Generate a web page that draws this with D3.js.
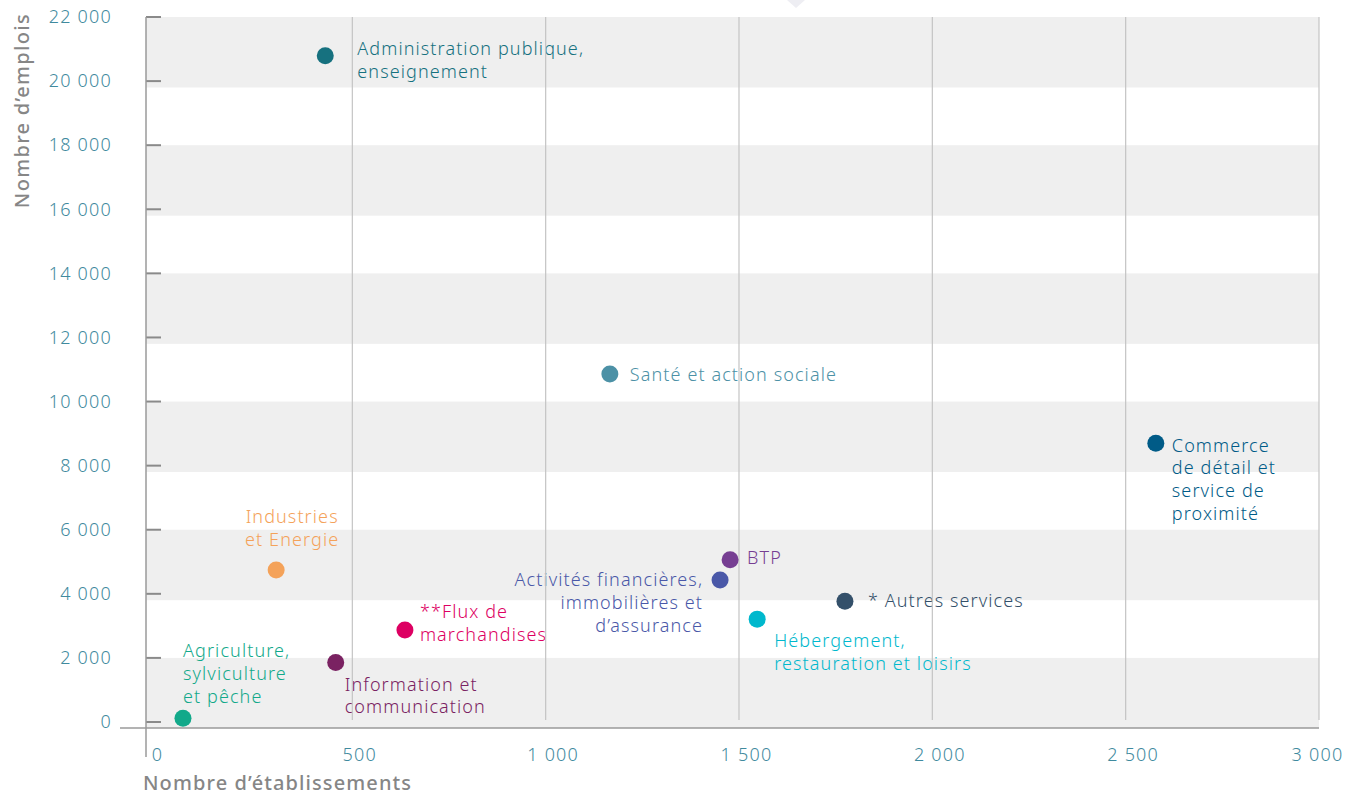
<!DOCTYPE html>
<html>
<head>
<meta charset="utf-8">
<script src="https://cdn.jsdelivr.net/npm/d3@7"></script>
<style>
  body { margin: 0; background: #fff; }
  svg text { font-family: "Noto Sans", "Open Sans", sans-serif; }
</style>
</head>
<body>
<svg id="chart" width="1346" height="795"></svg>
<script>
'use strict';

// sectors: nombre d'établissements (x) / nombre d'emplois (y)
var sectors = ['Administration publique', 'Santé', 'Commerce', 'Industries', 'BTP',
    'Activités financières', 'Autres services', 'Hébergement', 'Flux', 'Information', 'Agriculture'];
var etablissements = [430, 1166, 2578, 303, 1477, 1451, 1774, 1547, 636, 457, 62];
var emplois = [20790, 10860, 8700, 4740, 5060, 4430, 3770, 3210, 2870, 1860, 120];
var labels = [
    ['Administration publique,', 'enseignement'],
    ['Santé et action sociale'],
    ['Commerce', 'de détail et', 'service de', 'proximité'],
    ['Industries', 'et Energie'],
    ['BTP'],
    ['Activités financières,', 'immobilières et', 'd\u2019assurance'],
    ['* Autres services'],
    ['Hébergement,', 'restauration et loisirs'],
    ['**Flux de', 'marchandises'],
    ['Information et', 'communication'],
    ['Agriculture,', 'sylviculture', 'et pêche']
];
var colors = ['#16717f', '#4c91a6', '#005b87', '#f4a259', '#763e92', '#4a58a8',
    '#34506a', '#00b8cd', '#dd0062', '#7a2262', '#12a98a'];

var xTicks = [0, 500, 1000, 1500, 2000, 2500, 3000];
var yTicks = [0, 2000, 4000, 6000, 8000, 10000, 12000, 14000, 16000, 18000, 20000, 22000];
var bandStarts = [22000, 18000, 14000, 10000, 6000, 2000];

// where each label sits relative to its dot
var labelPlace = [
    {dx: 32, dy: -7, anchor: 'start'},
    {dx: 20, dy: 1, anchor: 'start'},
    {dx: 16, dy: 2, anchor: 'start'},
    {dx: 16, dy: -53, anchor: 'middle'},
    {dx: 17, dy: -2, anchor: 'start'},
    {dx: -17, dy: 0, anchor: 'end'},
    {dx: 23, dy: 0, anchor: 'start'},
    {dx: 17, dy: 22, anchor: 'start'},
    {dx: 15, dy: -18, anchor: 'start'},
    {dx: 9, dy: 22, anchor: 'start'},
    {dx: 0, dy: -67, anchor: 'start'}
];

var svg = d3.select('#chart'),
    x = d3.scaleLinear().domain([0, 3000]).range([159, 1319]),
    y = d3.scaleLinear().domain([0, 22000]).range([722, 17]),
    plotBottom = 728,
    fmt = function(v) { return d3.format(',')(v).replace(/,/g, ' '); };

// little tooltip pointer left at the top
svg.append('path')
    .attr('d', 'M787,0 L805,0 L796,8 Z')
    .attr('fill', '#eeeef3');

// grey bands
svg.append('g').selectAll('rect')
    .data(bandStarts)
    .join('rect')
    .attr('x', 146)
    .attr('width', 1319 - 146)
    .attr('y', function(d) { return y(d); })
    .attr('height', function(d) { return Math.min(y(d - 2200), plotBottom) - y(d); })
    .attr('fill', '#efefef');

// labels
var lab = svg.append('g');
sectors.forEach(function(s, i) {
    var p = labelPlace[i];
    var t = lab.append('text')
        .attr('x', x(etablissements[i]) + p.dx)
        .attr('y', y(emplois[i]) + p.dy)
        .attr('text-anchor', p.anchor)
        .attr('fill', colors[i])
        .style('font-size', '18px')
        .style('letter-spacing', '1.1px')
        .style('font-weight', 300);
    labels[i].forEach(function(line, k) {
        t.append('tspan')
            .attr('x', x(etablissements[i]) + p.dx)
            .attr('dy', k === 0 ? '0.35em' : 22.7)
            .text(line);
    });
});

// vertical gridlines (over the text, like the original)
svg.append('g').selectAll('line')
    .data(xTicks.slice(1))
    .join('line')
    .attr('x1', function(d) { return x(d); })
    .attr('x2', function(d) { return x(d); })
    .attr('y1', 17)
    .attr('y2', 720)
    .attr('stroke', '#c4c4c4')
    .attr('stroke-width', 1.2);

// dots
svg.append('g').selectAll('circle')
    .data(sectors)
    .join('circle')
    .attr('cx', function(d, i) { return x(etablissements[i]); })
    .attr('cy', function(d, i) { return y(emplois[i]); })
    .attr('r', 8.5)
    .attr('fill', function(d, i) { return colors[i]; });

// y axis
var yAxis = svg.append('g')
    .attr('transform', 'translate(146,0)')
    .call(d3.axisLeft(y).tickValues(yTicks).tickFormat(fmt).tickSize(0).tickPadding(34));
yAxis.select('.domain').remove();
yAxis.selectAll('text')
    .attr('fill', '#3f8a9e')
    .style('font-size', '18px')
    .style('letter-spacing', '1.2px')
    .style('font-weight', 300);
svg.append('g').selectAll('line')
    .data(yTicks)
    .join('line')
    .attr('x1', 146)
    .attr('x2', 161)
    .attr('y1', function(d) { return y(d); })
    .attr('y2', function(d) { return y(d); })
    .attr('stroke', '#8a8a8a')
    .attr('stroke-width', 2);
svg.append('line')
    .attr('x1', 146).attr('x2', 146)
    .attr('y1', 17).attr('y2', 757)
    .attr('stroke', '#9a9a9a')
    .attr('stroke-width', 1.5);

// x axis
svg.append('line')
    .attr('x1', 120).attr('x2', 1319)
    .attr('y1', plotBottom).attr('y2', plotBottom)
    .attr('stroke', '#9a9a9a')
    .attr('stroke-width', 1.5);
var xAxis = svg.append('g')
    .attr('transform', 'translate(0,' + plotBottom + ')')
    .call(d3.axisBottom(x).tickValues(xTicks).tickFormat(fmt).tickSize(0).tickPadding(20));
xAxis.select('.domain').remove();
xAxis.selectAll('text')
    .attr('dx', function(d) { return d === 0 || d === 3000 ? -2 : 7; })
    .attr('fill', '#3f8a9e')
    .style('font-size', '18px')
    .style('letter-spacing', '1.2px')
    .style('font-weight', 300);

// axis titles
svg.append('text')
    .attr('x', 143)
    .attr('y', 790)
    .attr('fill', '#868686')
    .style('font-size', '20px')
    .style('letter-spacing', '1.1px')
    .style('font-weight', 500)
    .text('Nombre d\u2019établissements');
svg.append('text')
    .attr('transform', 'translate(29,13) rotate(-90)')
    .attr('text-anchor', 'end')
    .attr('fill', '#868686')
    .style('font-size', '20px')
    .style('letter-spacing', '1.3px')
    .style('font-weight', 500)
    .text('Nombre d\u2019emplois');
</script>
</body>
</html>
